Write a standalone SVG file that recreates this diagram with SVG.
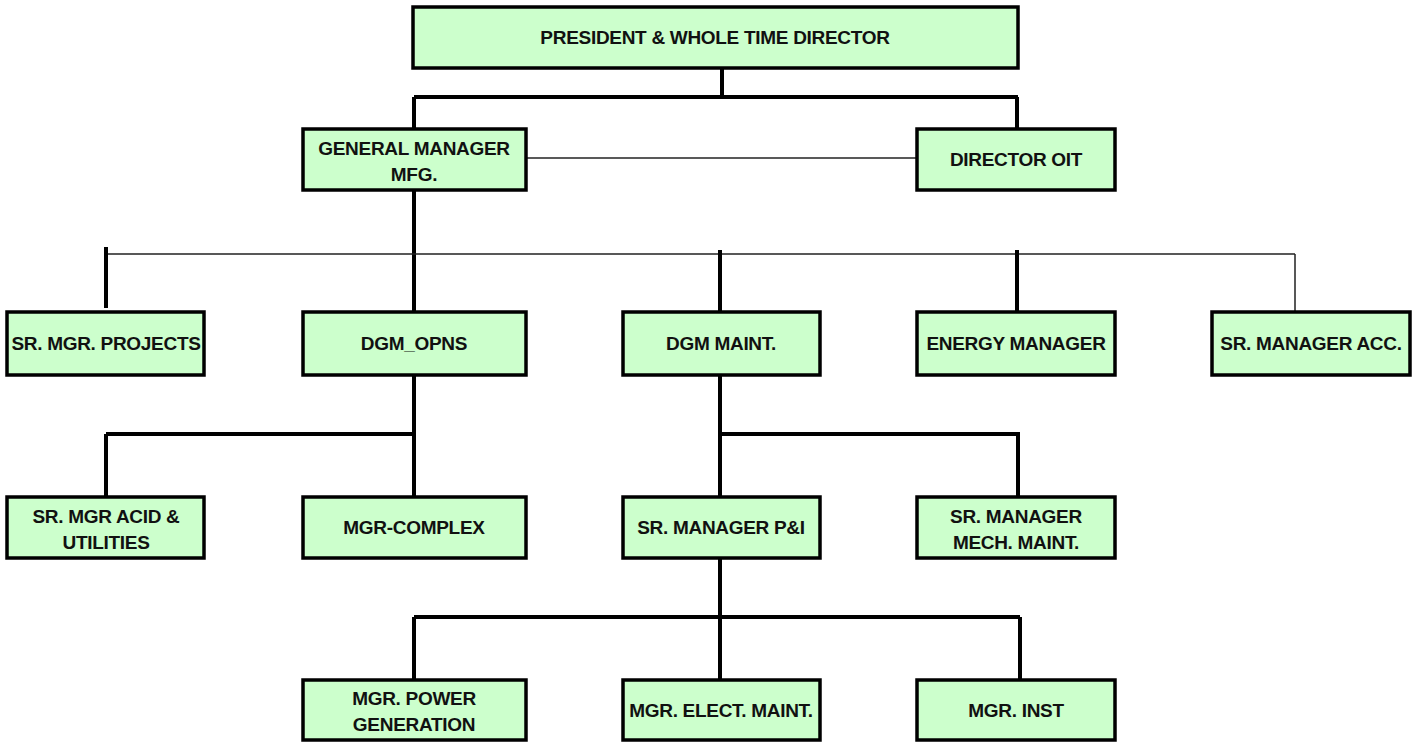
<svg xmlns="http://www.w3.org/2000/svg" width="1421" height="743" viewBox="0 0 1421 743">
<style>
.box{fill:#CCFFCC;stroke:#000;stroke-width:3.5}
.t{font-family:"Liberation Sans",Arial,sans-serif;font-weight:bold;font-size:19px;letter-spacing:-0.3px;fill:#111;text-anchor:middle}
.thick{stroke:#000;stroke-width:4;fill:none}
.thin{stroke:#222;stroke-width:1.5;fill:none}
</style>
<rect width="1421" height="743" fill="#fff"/>
<g id="connectors">
<path class="thick" d="M722 68V97M414 97H1018M414 97V129M1017 97V129"/>
<path class="thin" d="M526 158H917"/>
<path class="thick" d="M414 190V312"/>
<path class="thin" d="M106 254H1295M1295 254V312"/>
<path class="thick" d="M106 247V308M720 250V312M1017 250V312"/>
<path class="thick" d="M414 375V497M106 434H414M106 434V497"/>
<path class="thick" d="M720 375V497M720 434H1018V497"/>
<path class="thick" d="M720 558V680M414 617H1020M414 617V680M1020 617V680"/>
</g>
<g id="president"><rect class="box" x="413" y="7" width="605" height="61"/><text class="t" x="715" y="44">PRESIDENT &amp; WHOLE TIME DIRECTOR</text></g>
<g id="gm_mfg"><rect class="box" x="303" y="129" width="223" height="61"/><text class="t" x="414" y="155">GENERAL MANAGER</text><text class="t" x="414" y="181">MFG.</text></g>
<g id="director_oit"><rect class="box" x="917" y="129" width="198" height="61"/><text class="t" x="1016" y="166">DIRECTOR OIT</text></g>
<g id="sr_mgr_projects"><rect class="box" x="7" y="312" width="197" height="63"/><text class="t" x="106" y="350">SR. MGR. PROJECTS</text></g>
<g id="dgm_opns"><rect class="box" x="303" y="312" width="223" height="63"/><text class="t" x="414" y="350">DGM_OPNS</text></g>
<g id="dgm_maint"><rect class="box" x="623" y="312" width="197" height="63"/><text class="t" x="721" y="350">DGM MAINT.</text></g>
<g id="energy_manager"><rect class="box" x="917" y="312" width="198" height="63"/><text class="t" x="1016" y="350">ENERGY MANAGER</text></g>
<g id="sr_manager_acc"><rect class="box" x="1212" y="312" width="198" height="63"/><text class="t" x="1311" y="350">SR. MANAGER ACC.</text></g>
<g id="sr_mgr_acid"><rect class="box" x="7" y="497" width="197" height="61"/><text class="t" x="106" y="523">SR. MGR ACID &amp;</text><text class="t" x="106" y="549">UTILITIES</text></g>
<g id="mgr_complex"><rect class="box" x="303" y="497" width="223" height="61"/><text class="t" x="414" y="534">MGR-COMPLEX</text></g>
<g id="sr_manager_pi"><rect class="box" x="623" y="497" width="197" height="61"/><text class="t" x="721" y="534">SR. MANAGER P&amp;I</text></g>
<g id="sr_manager_mech"><rect class="box" x="917" y="497" width="198" height="61"/><text class="t" x="1016" y="523">SR. MANAGER</text><text class="t" x="1016" y="549">MECH. MAINT.</text></g>
<g id="mgr_power"><rect class="box" x="303" y="680" width="223" height="60"/><text class="t" x="414" y="705">MGR. POWER</text><text class="t" x="414" y="731">GENERATION</text></g>
<g id="mgr_elect"><rect class="box" x="623" y="680" width="197" height="60"/><text class="t" x="721" y="717">MGR. ELECT. MAINT.</text></g>
<g id="mgr_inst"><rect class="box" x="917" y="680" width="198" height="60"/><text class="t" x="1016" y="717">MGR. INST</text></g>
</svg>
